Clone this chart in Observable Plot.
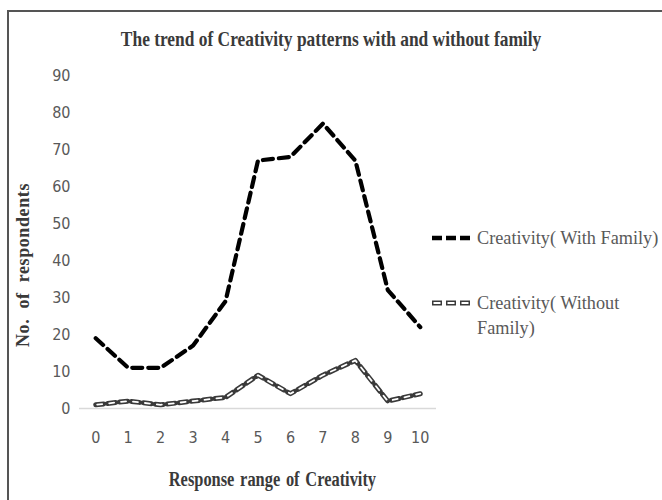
<!DOCTYPE html>
<html>
<head>
<meta charset="utf-8">
<script src="https://cdn.jsdelivr.net/npm/d3@7"></script>
<script src="https://cdn.jsdelivr.net/npm/@observablehq/plot@0.6"></script>
<style>
  html, body { margin: 0; padding: 0; background: #fff; overflow: hidden; }
  #wrap { position: relative; width: 662px; height: 500px; overflow: hidden; background: #fff; }
  #frame { position: absolute; left: 7px; top: 10px; width: 700px; height: 600px; border: 2px solid #555; box-sizing: border-box; }
  #chart { position: absolute; left: 0; top: 0; }
  .title { position: absolute; left: 0; width: 662px; top: 26px; text-align: center; }
  .title span { display: inline-block; font-family: "Liberation Serif", serif; font-weight: bold; font-size: 22px; color: #3a3a3a; transform: scaleX(0.79); white-space: nowrap; }
  .xlabel { position: absolute; left: 94px; width: 357px; top: 468px; text-align: center; }
  .xlabel span { display: inline-block; font-family: "Liberation Serif", serif; font-weight: bold; font-size: 20px; color: #3a3a3a; transform: scaleX(0.82); white-space: nowrap; word-spacing: 2px; }
  .ylabel { position: absolute; left: 23px; top: 265px; width: 0; height: 0; }
  .ylabel span { position: absolute; transform: translate(-50%, -50%) rotate(-90deg); font-family: "Liberation Serif", serif; font-weight: bold; font-size: 18px; color: #3a3a3a; white-space: nowrap; letter-spacing: 0.6px; word-spacing: 5px; }
  .legend { position: absolute; left: 430px; font-family: "Liberation Serif", serif; font-size: 19px; color: #595959; line-height: 25px; }
  .legend svg { position: absolute; left: 0; top: 0; }
  .legend .lt { position: absolute; left: 47px; top: -13px; white-space: nowrap; transform: scaleX(0.96); transform-origin: left center; }
</style>
</head>
<body>
<div id="wrap">
  <div id="chart"></div>
  <div id="frame"></div>
  <div class="title"><span>The trend of Creativity patterns with and without family</span></div>
  <div class="ylabel"><span>No. of respondents</span></div>
  <div class="xlabel"><span>Response range of Creativity</span></div>
  <div id="legend"></div>
</div>
<script>
const responses = [0, 1, 2, 3, 4, 5, 6, 7, 8, 9, 10];
const withFamily = [19, 11, 11, 17, 29, 67, 68, 77, 67, 32, 22];
const withoutFamily = [1, 2, 1, 2, 3, 9, 4, 9, 13, 2, 4];
const yTicks = [0, 10, 20, 30, 40, 50, 60, 70, 80, 90];
const seriesNames = ["Creativity( With Family)", "Creativity( Without Family)"];

const dataWith = responses.map((r, i) => ({ r, v: withFamily[i] }));
const dataWithout = responses.map((r, i) => ({ r, v: withoutFamily[i] }));

const tickFont = "'Liberation Sans Narrow', 'DejaVu Sans Condensed', sans-serif";

const plot = Plot.plot({
  width: 662,
  height: 500,
  marginLeft: 79,
  marginRight: 226,
  marginTop: 75,
  marginBottom: 92,
  style: { background: "transparent", fontFamily: tickFont, fontSize: "16px", color: "#595959", overflow: "visible" },
  x: { domain: [-0.5, 10.5] },
  y: { domain: [0, 90] },
  marks: [
    Plot.ruleY([0], { stroke: "#d9d9d9", strokeWidth: 1.5 }),
    Plot.axisX({ ticks: responses, tickFormat: d => String(d), tickSize: 0, tickPadding: 23, label: null, fill: "#595959" }),
    Plot.axisY({ ticks: yTicks, tickFormat: d => String(d), tickSize: 0, tickPadding: 9, label: null, fill: "#595959" }),
    // without family: hollow dashes (outer dark, inner white)
    Plot.line(dataWithout, { x: "r", y: "v", stroke: "#3a3a3a", strokeWidth: 5, strokeDasharray: "8,4", strokeLinejoin: "round" }),
    Plot.line(dataWithout, { x: "r", y: "v", stroke: "#fff", strokeWidth: 1.8, strokeDasharray: "5,7", strokeDashoffset: -1.5, strokeLinejoin: "round" }),
    // with family: bold black dashes
    Plot.line(dataWith, { x: "r", y: "v", stroke: "#000", strokeWidth: 4.2, strokeDasharray: "10,6", strokeLinejoin: "round" })
  ]
});
document.getElementById("chart").appendChild(plot);

// Legend
const legend = document.getElementById("legend");
const items = [
  { top: 238, name: seriesNames[0], lines: ["Creativity( With Family)"], hollow: false },
  { top: 303, name: seriesNames[1], lines: ["Creativity( Without", "Family)"], hollow: true }
];
for (const it of items) {
  const d = document.createElement("div");
  d.className = "legend";
  d.style.top = it.top + "px";
  const ns = "http://www.w3.org/2000/svg";
  const s = document.createElementNS(ns, "svg");
  s.setAttribute("width", 44); s.setAttribute("height", 10);
  s.style.top = "-5px";
  const mk = (stroke, w, dash, off) => {
    const l = document.createElementNS(ns, "line");
    l.setAttribute("x1", 2); l.setAttribute("x2", 40); l.setAttribute("y1", 5); l.setAttribute("y2", 5);
    l.setAttribute("stroke", stroke); l.setAttribute("stroke-width", w);
    l.setAttribute("stroke-dasharray", dash); l.setAttribute("stroke-dashoffset", off);
    s.appendChild(l);
  };
  if (it.hollow) {
    mk("#3a3a3a", 5, "10,4", 0);
    mk("#fff", 1.8, "7,7", -1.5);
  } else {
    mk("#000", 4.5, "10,4", 0);
  }
  d.appendChild(s);
  const t = document.createElement("div");
  t.className = "lt";
  t.innerHTML = it.lines.join("<br>");
  d.appendChild(t);
  legend.appendChild(d);
}
</script>
</body>
</html>
